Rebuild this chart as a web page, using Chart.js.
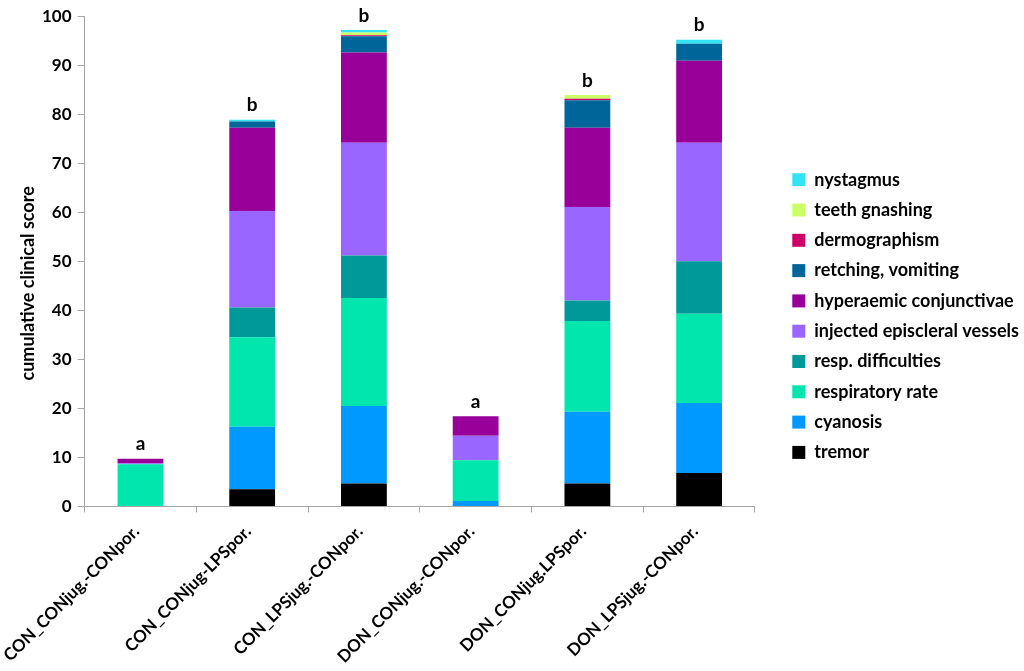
<!DOCTYPE html>
<html>
<head>
<meta charset="utf-8">
<script src="https://cdn.jsdelivr.net/npm/chart.js@4/dist/chart.umd.min.js"></script>
<style>
  html, body { margin: 0; padding: 0; background: #fff; }
  #wrap { width: 1024px; height: 671px; }
</style>
</head>
<body>
<div id="wrap"><canvas id="grafico" width="1024" height="671"></canvas></div>
<script>
// groups on the x axis
const categories = ['CON_CONjug.-CONpor.', 'CON_CONjug-LPSpor.', 'CON_LPSjug.-CONpor.',
                    'DON_CONjug.-CONpor.', 'DON_CONjug.LPSpor.', 'DON_LPSjug.-CONpor.'];

// clinical signs, bottom to top of the stack
const tremor        = [0,   3.5,  4.7,  0,   4.7,  6.8];
const cyanosis      = [0,   12.75, 15.8, 1.1, 14.6, 14.3];
const respRate      = [8.6, 18.25, 22,   8.3, 18.5, 18.2];
const respDiff      = [0,   6.1,  8.7,  0,   4.2,  10.7];
const injected      = [0.2, 19.65, 23,  5,   19.1, 24.2];
const hyperaemic    = [0.9, 17,   18.4, 4,   16.15, 16.7];
const retching      = [0,   1.25, 3.3,  0,   5.6,  3.5];
const dermographism = [0,   0,    0.2,  0,   0.3,  0];
const teethGnashing = [0,   0,    0.6,  0,   0.8,  0];
const nystagmus     = [0,   0.4,  0.5,  0,   0,    0.8];

// significance letters above each bar
const letters = ['a', 'b', 'b', 'a', 'b', 'b'];

const yTicks = [0, 10, 20, 30, 40, 50, 60, 70, 80, 90, 100];
const yTitle = 'cumulative clinical score';

const series = [
    { label: 'tremor', data: tremor, color: '#000000' },
    { label: 'cyanosis', data: cyanosis, color: '#0099ff' },
    { label: 'respiratory rate', data: respRate, color: '#00e6ad' },
    { label: 'resp. difficulties', data: respDiff, color: '#009999' },
    { label: 'injected episcleral vessels', data: injected, color: '#9966ff' },
    { label: 'hyperaemic conjunctivae', data: hyperaemic, color: '#990099' },
    { label: 'retching, vomiting', data: retching, color: '#006699' },
    { label: 'dermographism', data: dermographism, color: '#cc0066' },
    { label: 'teeth gnashing', data: teethGnashing, color: '#ccff66' },
    { label: 'nystagmus', data: nystagmus, color: '#33e3f5' }
];

const fontFam = 'Lato, "Open Sans", sans-serif';

// letters a / b above the stacks, plus the y title (sits a bit low, like the original)
const letrasPlugin = {
    id: 'letras',
    afterDraw(chart) {
        const ctx = chart.ctx;
        const xs = chart.scales.x;
        const ys = chart.scales.y;
        ctx.save();
        ctx.font = 'bold 19px ' + fontFam;
        ctx.fillStyle = '#000';
        ctx.textAlign = 'center';
        ctx.textBaseline = 'bottom';
        categories.forEach((c, i) => {
            let total = 0;
            series.forEach(s => { total += s.data[i]; });
            const x = xs.getPixelForValue(i);
            const y = ys.getPixelForValue(total);
            ctx.fillText(letters[i], x, y - 5);
        });

        ctx.font = 'bold 18px ' + fontFam;
        ctx.textBaseline = 'middle';
        ctx.translate(28, ys.getPixelForValue(45.5));
        ctx.rotate(-Math.PI / 2);
        ctx.fillText(yTitle, 0, 0);
        ctx.restore();
    }
};

const ctx = document.getElementById('grafico').getContext('2d');
const grafico = new Chart(ctx, {
    type: 'bar',
    data: {
        labels: categories,
        datasets: series.map(s => ({
            label: s.label,
            data: s.data,
            backgroundColor: s.color,
            borderWidth: 0,
            barPercentage: 0.82,
            categoryPercentage: 0.5
        }))
    },
    options: {
        responsive: false,
        animation: false,
        devicePixelRatio: 1,
        layout: { padding: { top: 6, bottom: -5, left: 36, right: -5 } },
        plugins: {
            tooltip: { enabled: false },
            legend: {
                position: 'right',
                align: 'start',
                reverse: true,
                maxWidth: 320,
                title: { display: true, text: '', font: { size: 12 }, padding: { top: 0, bottom: 138 } },
                labels: {
                    boxWidth: 13,
                    boxHeight: 13,
                    padding: 12.3,
                    color: '#000',
                    font: { family: fontFam, size: 18, weight: 'bold' }
                }
            }
        },
        scales: {
            x: {
                stacked: true,
                grid: { display: true, drawOnChartArea: false, offset: true, color: '#a6a6a6', tickLength: 6 },
                border: { color: '#a6a6a6' },
                ticks: {
                    color: '#000',
                    minRotation: 45,
                    maxRotation: 45,
                    padding: 9,
                    labelOffset: -4,
                    font: { family: fontFam, size: 17, weight: 'bold' }
                },
                // the first slanted label may hang into the left margin
                afterFit: axis => { axis.paddingLeft = 0; }
            },
            y: {
                stacked: true,
                min: 0,
                max: 100,
                afterBuildTicks: axis => { axis.ticks = yTicks.map(v => ({ value: v })); },
                grid: { display: true, drawOnChartArea: false, color: '#a6a6a6', tickLength: 7 },
                border: { color: '#a6a6a6' },
                ticks: {
                    color: '#000',
                    padding: 6,
                    font: { family: fontFam, size: 17, weight: 'bold' }
                }
            },
            // empty axis, only keeps a gap between the bars and the legend
            hueco: {
                position: 'right',
                display: true,
                grid: { display: false },
                border: { display: false },
                ticks: { display: false },
                afterFit: axis => { axis.width = 25; }
            }
        }
    },
    plugins: [letrasPlugin]
});
</script>
</body>
</html>
